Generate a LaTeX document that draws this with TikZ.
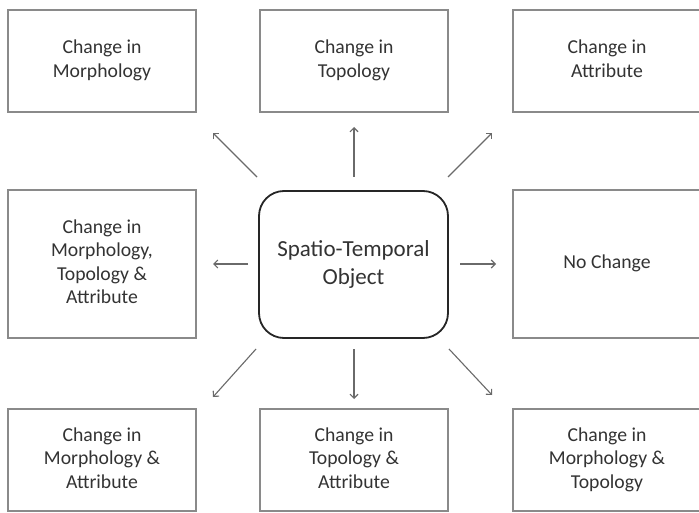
\documentclass[tikz,border=0pt]{standalone}
\usepackage{fontspec}
\setmainfont{Carlito}
\usetikzlibrary{arrows.meta}
\definecolor{boxgray}{HTML}{8A8A8A}
\definecolor{txtgray}{HTML}{333333}
\definecolor{arrgray}{HTML}{6A6A6A}
\definecolor{centerline}{HTML}{262626}
\newcommand\mytab[2][0pt]{\begin{tabular}{@{}c@{}}\rule{0pt}{\dimexpr0.7\baselineskip+#1\relax}#2\end{tabular}}
\tikzset{
  box/.style={draw=boxgray, line width=1.6pt, rectangle, minimum width=188pt,
    text=txtgray, font=\fontsize{19.7pt}{23.5pt}\selectfont},
  tallbox/.style={box, minimum height=148pt},
  shortbox/.style={box, minimum height=102pt},
  centerbox/.style={draw=centerline, line width=1.8pt, rounded corners=25pt,
    minimum width=189pt, minimum height=147pt, text=txtgray,
    font=\fontsize{23pt}{28pt}\selectfont},
  conn/.style={draw=arrgray, line width=1.1pt, -{Straight Barb[length=4pt,width=8pt]}}
}
\begin{document}
\begin{tikzpicture}[x=1pt,y=-1pt]
\useasboundingbox[fill=white] (0,0) rectangle (699,513);
\node[shortbox] (tl) at (102,61) {\mytab{Change in\\Morphology}};
\node[shortbox] (tm) at (354,61) {\mytab{Change in\\Topology}};
\node[shortbox] (tr) at (607,61) {\mytab{Change in\\Attribute}};
\node[tallbox] (ml) at (102,264) {\mytab{Change in\\Morphology,\\Topology \&\\Attribute}};
\node[centerbox] (c) at (353.5,264.5) {\mytab[12pt]{Spatio-Temporal\\Object}};
\node[tallbox] (mr) at (607,264) {\mytab{No Change}};
\node[shortbox] (bl) at (102,460) {\mytab[10pt]{Change in\\Morphology \&\\Attribute}};
\node[shortbox] (bm) at (354,460) {\mytab[10pt]{Change in\\Topology \&\\Attribute}};
\node[shortbox] (br) at (607,460) {\mytab[10pt]{Change in\\Morphology \&\\Topology}};
% arrow end points
\coordinate (a1s) at (257,177); \coordinate (a1e) at (213,133);
\coordinate (a2s) at (354,177); \coordinate (a2e) at (354,127);
\coordinate (a3s) at (448,177); \coordinate (a3e) at (492,133);
\coordinate (a4s) at (248,264); \coordinate (a4e) at (213,264);
\coordinate (a5s) at (460,264); \coordinate (a5e) at (496,264);
\coordinate (a6s) at (256,349); \coordinate (a6e) at (213,397);
\coordinate (a7s) at (354,349); \coordinate (a7e) at (354,399);
\coordinate (a8s) at (449,349); \coordinate (a8e) at (492,395);
\draw[conn] (a1s) -- (a1e);
\draw[conn] (a2s) -- (a2e);
\draw[conn] (a3s) -- (a3e);
\draw[conn] (a4s) -- (a4e);
\draw[conn] (a5s) -- (a5e);
\draw[conn] (a6s) -- (a6e);
\draw[conn] (a7s) -- (a7e);
\draw[conn] (a8s) -- (a8e);
\end{tikzpicture}
\end{document}
